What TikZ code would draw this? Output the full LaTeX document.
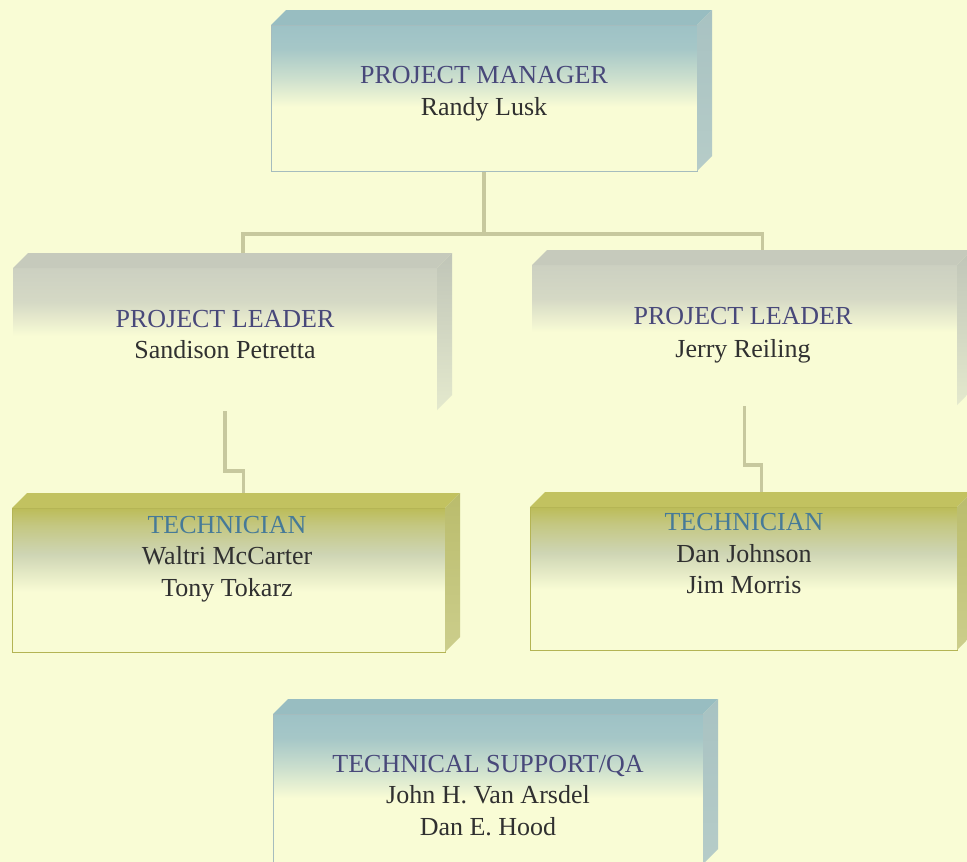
\documentclass[tikz,border=0pt]{standalone}
\usepackage{fontspec}
\setmainfont{Liberation Serif}
\usetikzlibrary{calc}

% palette
\definecolor{paper}{RGB}{249,252,213}
\definecolor{steel}{RGB}{158,194,198}
\definecolor{steeltop}{RGB}{152,189,193}
\definecolor{steelside}{RGB}{168,194,194}
\definecolor{steelsidelow}{RGB}{182,204,200}
\definecolor{steeledge}{RGB}{166,188,190}
\definecolor{ash}{RGB}{204,208,193}
\definecolor{ashtop}{RGB}{198,202,188}
\definecolor{ashside}{RGB}{192,197,184}
\definecolor{ashsidelow}{RGB}{228,233,205}
\definecolor{olive}{RGB}{188,188,88}
\definecolor{olivetop}{RGB}{194,194,96}
\definecolor{oliveside}{RGB}{186,188,108}
\definecolor{olivesidelow}{RGB}{204,206,140}
\definecolor{oliveedge}{RGB}{180,180,84}
\definecolor{sage}{RGB}{206,213,180}
\definecolor{wire}{RGB}{199,200,158}
\definecolor{titleink}{RGB}{72,72,122}
\definecolor{techink}{RGB}{70,122,152}
\definecolor{nameink}{RGB}{48,48,48}

% front-face fades: the node box spans 25bp..75bp of each shading
\pgfdeclareverticalshading{steelfade}{100bp}{color(0bp)=(paper); color(47bp)=(paper); color(57bp)=(steel!50!paper); color(67bp)=(steel!92!paper); color(75bp)=(steel); color(100bp)=(steel)}
\pgfdeclareverticalshading{ashfade}{100bp}{color(0bp)=(paper); color(51bp)=(paper); color(63bp)=(ash!80!paper); color(75bp)=(ash); color(100bp)=(ash)}
\pgfdeclareverticalshading{olivefade}{100bp}{color(0bp)=(paper); color(46bp)=(paper); color(59bp)=(sage); color(69bp)=(olive!55!sage); color(75bp)=(olive); color(100bp)=(olive)}

\pgfdeclarelayer{back}
\pgfdeclarelayer{wires}
\pgfsetlayers{back,wires,main}

\tikzset{
  wireline/.style={draw=wire, line width=3.5pt},
  slabface/.style={anchor=north west, inner sep=0pt, outer sep=0pt},
  steelslab/.style={slabface, shading=steelfade, draw=steeledge, line width=0.8pt},
  ashslab/.style={slabface, shading=ashfade},
  oliveslab/.style={slabface, shading=olivefade, draw=oliveedge, line width=1pt},
  rolelabel/.style={anchor=base, inner sep=0pt, font=\fontsize{26}{32}\selectfont, text=titleink},
  techlabel/.style={rolelabel, text=techink},
  personlabel/.style={anchor=base, inner sep=0pt, font=\fontsize{26}{32}\selectfont, text=nameink},
}

% top and right faces of a slab: node, top fill, side colour at top, side colour at bottom
\newcommand\slabfaces[4]{%
  \fill[#2] (#1.north west) -- ++(15,-15) -- ($(#1.north east)+(15,-15)$) -- (#1.north east) -- cycle;
  \shade[top color=#3, bottom color=#4] (#1.north east) -- ++(15,-15) -- ($(#1.south east)+(15,-15)$) -- (#1.south east) -- cycle;
}

\begin{document}
\begin{tikzpicture}[x=1pt, y=-1pt]
  \useasboundingbox (0,0) rectangle (967,862);
  \begin{pgfonlayer}{back}
    \fill[paper] (0,0) rectangle (967,862);
  \end{pgfonlayer}
  \clip (0,0) rectangle (967,862);

  % slabs
  \node[steelslab, minimum width=426pt, minimum height=146pt] (pm) at (271,25) {};
  \slabfaces{pm}{steeltop}{steelside}{steelsidelow}

  \node[ashslab, minimum width=424pt, minimum height=142pt] (pl1) at (13,268) {};
  \slabfaces{pl1}{ashtop}{ashside}{ashsidelow}

  \node[ashslab, minimum width=425pt, minimum height=140pt] (pl2) at (532,265) {};
  \slabfaces{pl2}{ashtop}{ashside}{ashsidelow}

  \node[oliveslab, minimum width=433pt, minimum height=144pt] (tc1) at (12,508) {};
  \slabfaces{tc1}{olivetop}{oliveside}{olivesidelow}

  \node[oliveslab, minimum width=427pt, minimum height=143pt] (tc2) at (530,507) {};
  \slabfaces{tc2}{olivetop}{oliveside}{olivesidelow}

  \node[steelslab, minimum width=430pt, minimum height=150pt] (qa) at (273,714) {};
  \slabfaces{qa}{steeltop}{steelside}{steelsidelow}

  % labels
  \node[rolelabel]   (pm-role) at (484,83)  {PROJECT MANAGER};
  \node[personlabel] (pm-name) at (484,115) {Randy Lusk};

  \node[rolelabel]   (pl1-role) at (225,327) {PROJECT LEADER};
  \node[personlabel] (pl1-name) at (225,358) {Sandison Petretta};

  \node[rolelabel]   (pl2-role) at (743,324) {PROJECT LEADER};
  \node[personlabel] (pl2-name) at (743,357) {Jerry Reiling};

  \node[techlabel]   (tc1-role)  at (227,533) {TECHNICIAN};
  \node[personlabel] (tc1-name1) at (227,564) {Waltri McCarter};
  \node[personlabel] (tc1-name2) at (227,596) {Tony Tokarz};

  \node[techlabel]   (tc2-role)  at (744,530) {TECHNICIAN};
  \node[personlabel] (tc2-name1) at (744,562) {Dan Johnson};
  \node[personlabel] (tc2-name2) at (744,593) {Jim Morris};

  \node[rolelabel]   (qa-role)  at (488,772) {TECHNICAL SUPPORT/QA};
  \node[personlabel] (qa-name1) at (488,803) {John H. Van Arsdel};
  \node[personlabel] (qa-name2) at (488,835) {Dan E. Hood};

  % reporting lines, kept under the slabs
  \begin{pgfonlayer}{wires}
    \draw[wireline] (pm.south) -- ($(pm.south)+(0,63)$);
    \draw[wireline] ($(pl1.north)+(18,-13)$) |- ($(pm.south)+(0,63)$) -| ($(pl2.north)+(18,-13)$);
    \draw[wireline] (pl1.south) |- ($(tc1.north)+(15,-37)$) -- ($(tc1.north)+(15,-14)$);
    \draw[wireline] (pl2.south) |- ($(tc2.north)+(18,-42)$) -- ($(tc2.north)+(18,-14)$);
  \end{pgfonlayer}
\end{tikzpicture}
\end{document}
